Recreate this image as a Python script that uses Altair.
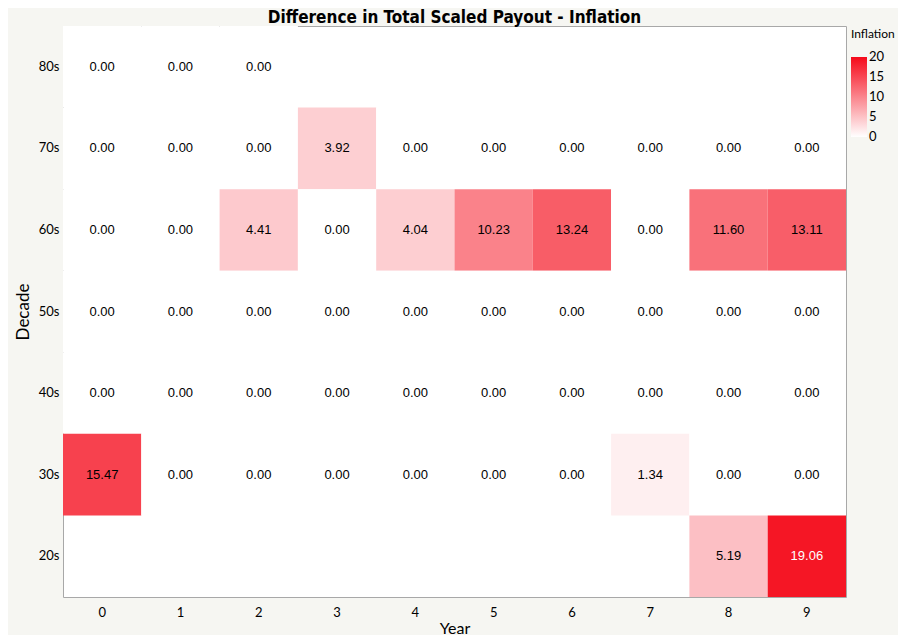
import altair as alt
import pandas as pd

years = [0, 1, 2, 3, 4, 5, 6, 7, 8, 9]
decades = ["80s", "70s", "60s", "50s", "40s", "30s", "20s"]

# None = no cell
v80 = [0.00, 0.00, 0.00, None, None, None, None, None, None, None]
v70 = [0.00, 0.00, 0.00, 3.92, 0.00, 0.00, 0.00, 0.00, 0.00, 0.00]
v60 = [0.00, 0.00, 4.41, 0.00, 4.04, 10.23, 13.24, 0.00, 11.60, 13.11]
v50 = [0.00, 0.00, 0.00, 0.00, 0.00, 0.00, 0.00, 0.00, 0.00, 0.00]
v40 = [0.00, 0.00, 0.00, 0.00, 0.00, 0.00, 0.00, 0.00, 0.00, 0.00]
v30 = [15.47, 0.00, 0.00, 0.00, 0.00, 0.00, 0.00, 1.34, 0.00, 0.00]
v20 = [None, None, None, None, None, None, None, None, 5.19, 19.06]

legend_ticks = [0.001, 5, 10, 15, 19.999]  # shown as 0, 5, 10, 15, 20

rows = {"80s": v80, "70s": v70, "60s": v60, "50s": v50, "40s": v40, "30s": v30, "20s": v20}
records = []
for d, vals in rows.items():
    for y, v in zip(years, vals):
        if v is not None:
            records.append({"Year": str(y), "Decade": d, "Inflation": v})
df = pd.DataFrame(records)

year_order = [str(y) for y in years]

x_enc = alt.X("Year:N", sort=year_order, scale=alt.Scale(paddingInner=0, paddingOuter=0),
              axis=alt.Axis(labelAngle=0, ticks=False, domain=False, labelFont="Lato", labelFontSize=13,
                            labelColor="#000", labelPadding=9, title="Year", titleFont="Lato",
                            titleFontSize=16, titleFontWeight="normal", titleColor="#000", titlePadding=1))
y_enc = alt.Y("Decade:N", sort=decades, scale=alt.Scale(paddingInner=0, paddingOuter=0),
              axis=alt.Axis(ticks=False, domain=False, labelFont="Lato", labelFontSize=13, labelColor="#000",
                            labelPadding=4, title="Decade", titleFont="Lato", titleFontSize=17,
                            titleFontWeight="normal", titleColor="#000", titlePadding=6))

rects = alt.Chart(df).mark_rect().encode(
    x=x_enc, y=y_enc,
    color=alt.Color("Inflation:Q",
                    scale=alt.Scale(domain=[0, 20], range=["#ffffff", "#f50a1a"], interpolate="rgb"),
                    legend=alt.Legend(title="Inflation", orient="none", legendX=788, legendY=3,
                                      gradientLength=80, gradientThickness=16, titleFont="Lato",
                                      titleFontSize=12, titleFontWeight="normal", titleColor="#000",
                                      labelFont="Lato", labelFontSize=13, labelColor="#000",
                                      labelOverlap=False, values=legend_ticks,
                                      labelExpr="format(round(datum.value), 'd')",
                                      gradientStrokeWidth=0, titlePadding=16)),
)

texts = alt.Chart(df).mark_text(font="Liberation Sans", fontSize=13).encode(
    x=alt.X("Year:N", sort=year_order),
    y=alt.Y("Decade:N", sort=decades),
    text=alt.Text("Inflation:Q", format=".2f"),
    color=alt.condition(alt.datum.Inflation > 17, alt.value("#ffffff"), alt.value("#000000")),
)

chart = (rects + texts).properties(
    width=783, height=571,
    title=alt.TitleParams("Difference in Total Scaled Payout - Inflation", font="DejaVu Sans Condensed",
                          fontSize=17, fontWeight="bold", color="#000", anchor="middle", offset=2, dy=3),
    autosize=alt.AutoSizeParams(type="none"),
    padding={"left": 55, "top": 18, "right": 52, "bottom": 38},
).configure(background="#f6f6f2").configure_view(fill="#ffffff", stroke="#a8a8a8", strokeWidth=1)

chart.save("out.html", embed_options={"renderer": "svg", "actions": False})
